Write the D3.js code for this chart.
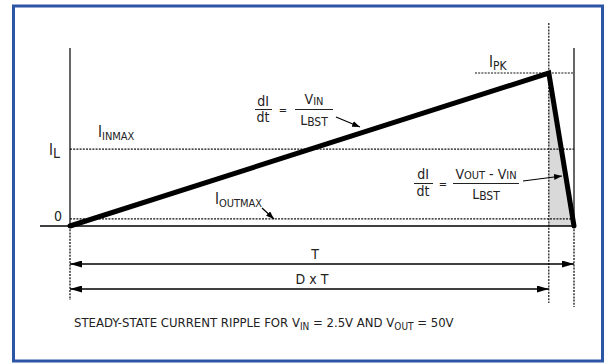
<!DOCTYPE html>
<html><head><meta charset="utf-8">
<script src="https://cdn.jsdelivr.net/npm/d3@7"></script>
<style>
body{margin:0;background:#fff}
text{font-family:"DejaVu Sans Condensed","Liberation Sans Narrow",sans-serif;fill:#222}
</style></head><body>
<svg id="c" width="605" height="363"></svg>
<script>
// Waveform: time as fraction of period T, current as fraction of IPK
const timePoints = [0, 0.95, 1.0];
const currentValues = [0, 1.0, 0];
const levelNames = ["IPK", "IL", "IOUTMAX", "0"];
const levelValues = [1.0, 0.503, 0.046, 0];
const dutyCycle = 0.95;

const svg = d3.select("#c");
const x = d3.scaleLinear().domain([0, 1]).range([70, 574]);
const y = d3.scaleLinear().domain([0, 1]).range([226, 73]);

// frame
svg.append("rect").attr("x", 13.5).attr("y", 6).attr("width", 589).attr("height", 355)
  .attr("fill", "none").attr("stroke", "#2d55a5").attr("stroke-width", 3);

const defs = svg.append("defs");
function marker(id, orient) {
  defs.append("marker").attr("id", id).attr("viewBox", "0 0 12 7").attr("refX", 12).attr("refY", 3.5)
    .attr("markerWidth", 12).attr("markerHeight", 7).attr("markerUnits", "userSpaceOnUse")
    .attr("orient", orient)
    .append("path").attr("d", "M0,0 L12,3.5 L0,7 Z").attr("fill", "#000");
}
marker("ah", "auto");
marker("ahs", "auto-start-reverse");
defs.append("marker").attr("id", "sm").attr("viewBox", "0 0 8 6").attr("refX", 8).attr("refY", 3)
  .attr("markerWidth", 8).attr("markerHeight", 6).attr("markerUnits", "userSpaceOnUse").attr("orient", "auto")
  .append("path").attr("d", "M0,0 L8,3 L0,6 Z").attr("fill", "#000");

const dash = "2,1.2";
// shaded triangle
svg.append("path")
  .attr("d", `M${x(dutyCycle)},${y(1)} L${x(1)},${y(0)} L${x(dutyCycle)},${y(0)} Z`)
  .attr("fill", "#d9d9d9");

// vertical lines
svg.append("line").attr("x1", x(0)).attr("x2", x(0)).attr("y1", 48).attr("y2", y(0)).attr("stroke", "#000").attr("stroke-width", 1.2);
svg.append("line").attr("x1", x(0)).attr("x2", x(0)).attr("y1", y(0)).attr("y2", 300).attr("stroke", "#000").attr("stroke-width", 1.2).attr("stroke-dasharray", dash);
svg.append("line").attr("x1", x(1)).attr("x2", x(1)).attr("y1", 48).attr("y2", y(0)).attr("stroke", "#000").attr("stroke-width", 1.2);
svg.append("line").attr("x1", x(1)).attr("x2", x(1)).attr("y1", y(0)).attr("y2", 307).attr("stroke", "#000").attr("stroke-width", 1.2).attr("stroke-dasharray", dash);
svg.append("line").attr("x1", x(dutyCycle)).attr("x2", x(dutyCycle)).attr("y1", 23).attr("y2", 303).attr("stroke", "#111").attr("stroke-width", 1.2).attr("stroke-dasharray", dash);

// horizontal levels
svg.append("line").attr("x1", 475).attr("x2", x(1)).attr("y1", y(levelValues[0])).attr("y2", y(levelValues[0])).attr("stroke", "#111").attr("stroke-width", 1.2).attr("stroke-dasharray", dash);
svg.append("line").attr("x1", x(0)).attr("x2", x(1)).attr("y1", y(levelValues[1])).attr("y2", y(levelValues[1])).attr("stroke", "#111").attr("stroke-width", 1.2).attr("stroke-dasharray", dash);
svg.append("line").attr("x1", x(0)).attr("x2", x(1)).attr("y1", y(levelValues[2])).attr("y2", y(levelValues[2])).attr("stroke", "#111").attr("stroke-width", 1.2).attr("stroke-dasharray", dash);
svg.append("line").attr("x1", 40).attr("x2", x(1)).attr("y1", y(0)).attr("y2", y(0)).attr("stroke", "#000").attr("stroke-width", 1.3);

// waveform
const line = d3.line().x((d, i) => x(timePoints[i])).y(d => y(d));
svg.append("path").attr("d", line(currentValues)).attr("fill", "none").attr("stroke", "#000")
  .attr("stroke-width", 5).attr("stroke-linejoin", "miter").attr("stroke-linecap", "round");

// dimension arrows
svg.append("line").attr("x1", x(0)).attr("x2", x(1)).attr("y1", 264).attr("y2", 264).attr("stroke", "#000").attr("stroke-width", 1.5)
  .attr("marker-start", "url(#ahs)").attr("marker-end", "url(#ah)");
svg.append("line").attr("x1", x(0)).attr("x2", x(dutyCycle)).attr("y1", 289).attr("y2", 289).attr("stroke", "#000").attr("stroke-width", 1.5)
  .attr("marker-start", "url(#ahs)").attr("marker-end", "url(#ah)");

function txt(xp, yp, parts, size, anchor) {
  const t = svg.append("text").attr("x", xp).attr("y", yp).attr("font-size", size).attr("text-anchor", anchor || "start");
  parts.forEach(p => {
    if (typeof p === "string") t.append("tspan").attr("font-size", size).text(p);
    else t.append("tspan").attr("font-size", p.s || size * 0.8).attr("dy", p.dy || 0).text(p.t);
  });
  return t;
}
txt(315, 259, ["T"], 14, "middle");
txt(312, 284, ["D x T"], 14, "middle");

// level labels
txt(489, 67, ["I", {t: "PK", dy: 3, s: 12}], 15);
txt(49, 155, ["I", {t: "L", dy: 3, s: 14}], 15);
txt(54, 221, ["0"], 14);
txt(98, 137, ["I", {t: "INMAX", dy: 3, s: 11}], 15);
txt(215, 204, ["I", {t: "OUTMAX", dy: 3, s: 11}], 15);
svg.append("line").attr("x1", 262).attr("y1", 208).attr("x2", 274).attr("y2", 219).attr("stroke", "#000").attr("stroke-width", 1.2).attr("marker-end", "url(#sm)");

// formula 1
txt(263, 106, ["dI"], 14, "middle");
txt(263, 122, ["dt"], 14, "middle");
svg.append("line").attr("x1", 255).attr("x2", 272).attr("y1", 109.5).attr("y2", 109.5).attr("stroke", "#222").attr("stroke-width", 1);
txt(283, 114, ["="], 11, "middle");
txt(314, 104, ["V", {t: "IN", dy: 1, s: 11}], 14, "middle");
svg.append("line").attr("x1", 295).attr("x2", 333).attr("y1", 109.5).attr("y2", 109.5).attr("stroke", "#222").attr("stroke-width", 1);
txt(314, 125, ["L", {t: "BST", dy: 1, s: 12}], 14, "middle");
svg.append("line").attr("x1", 336).attr("y1", 117).attr("x2", 360).attr("y2", 127).attr("stroke", "#000").attr("stroke-width", 1.2).attr("marker-end", "url(#sm)");

// formula 2
txt(423, 179, ["dI"], 14, "middle");
txt(423, 196, ["dt"], 14, "middle");
svg.append("line").attr("x1", 414).attr("x2", 433).attr("y1", 183.5).attr("y2", 183.5).attr("stroke", "#222").attr("stroke-width", 1);
txt(443, 188, ["="], 11, "middle");
txt(486, 179, ["V", {t: "OUT", s: 11}, {t: " - V", s: 14}, {t: "IN", s: 11}], 14, "middle");
svg.append("line").attr("x1", 453).attr("x2", 519).attr("y1", 183.5).attr("y2", 183.5).attr("stroke", "#222").attr("stroke-width", 1);
txt(486, 199, ["L", {t: "BST", dy: 1, s: 12}], 14, "middle");
svg.append("line").attr("x1", 523).attr("y1", 181).attr("x2", 562).attr("y2", 176).attr("stroke", "#000").attr("stroke-width", 1.2).attr("marker-end", "url(#sm)");

// caption
txt(74, 327, ["STEADY-STATE CURRENT RIPPLE FOR V", {t: "IN", dy: 3, s: 10}, {t: " = 2.5V AND V", dy: -3, s: 13}, {t: "OUT", dy: 3, s: 10}, {t: " = 50V", dy: -3, s: 13}], 13);
</script></body></html>
